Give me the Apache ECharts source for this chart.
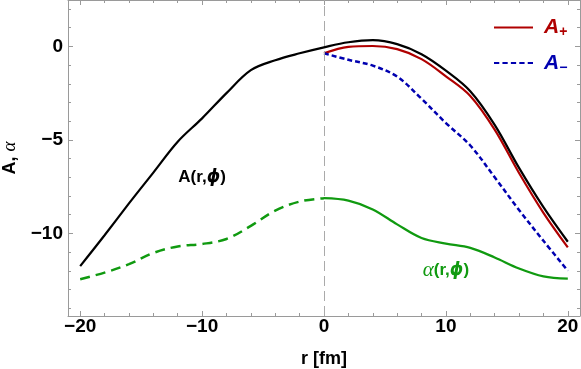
<!DOCTYPE html>
<html>
<head>
<meta charset="utf-8">
<script src="https://cdn.jsdelivr.net/npm/echarts@6/dist/echarts.min.js"></script>
<style>
html, body { margin: 0; padding: 0; background: #fff; }
#main { width: 581px; height: 369px; }
</style>
</head>
<body>
<div id="main"></div>
<script>
// r grid in fm
var rLeft = [-20, -18, -16, -14, -12, -10, -8, -6, -4, -2, 0];
var rRight = [0, 2, 4, 6, 8, 10, 12, 14, 16, 18, 20];
var rAll = rLeft.concat(rRight.slice(1));

// A(r,phi), whole range
var aTotal = [-11.75, -10.1, -8.4, -6.75, -5.1, -3.85, -2.5, -1.27, -0.74, -0.37, -0.05,
              0.22, 0.33, 0.12, -0.42, -1.3, -2.4, -4.2, -6.5, -8.6, -10.45];
// A+ and A- for r >= 0
var aPlus = [-0.37, -0.03, 0.02, -0.15, -0.68, -1.6, -2.65, -4.45, -6.77, -8.9, -10.75];
var aMinus = [-0.37, -0.72, -1.03, -1.62, -2.8, -4.1, -5.3, -7.0, -8.75, -10.4, -12.0];
// alpha(r,phi)
var alphaLeft = [-12.45, -12.1, -11.65, -11.05, -10.7, -10.57, -10.3, -9.6, -8.78, -8.3, -8.12];
var alphaRight = [-8.12, -8.25, -8.72, -9.52, -10.25, -10.55, -10.78, -11.29, -11.88, -12.3, -12.42];

var xMajor = [-20, -10, 0, 10, 20];
var xMinor = [-18, -16, -14, -12, -8, -6, -4, -2, 2, 4, 6, 8, 12, 14, 16, 18];
var yMajor = [0, -5, -10];
var yMinor = [2, 1, -1, -2, -3, -4, -6, -7, -8, -9, -11, -12, -13, -14];

var red = '#b00000', blue = '#0000b0', green = '#109a10';
var frameColor = '#9a9a9a';

function pairs(xs, ys) {
	return xs.map(function (x, i) { return [x, ys[i]]; });
}
function minus(v) {
	return String(v).replace('-', '\u2212');
}

// one axis of the frame: major or minor ticks only
function frameAxis(pos, ticks, isMajor, withLabels, isX) {
	var ax = {
		type: 'value',
		position: pos,
		min: isX ? -21 : -14.42,
		max: isX ? 21 : 2.48,
		splitLine: { show: false },
		axisLine: { show: isMajor, onZero: false, lineStyle: { color: frameColor, width: 1 } },
		axisTick: { show: true, inside: true, length: isMajor ? 5 : 3, customValues: ticks,
			lineStyle: { color: frameColor, width: 1 } },
		axisLabel: { show: withLabels, customValues: ticks, formatter: minus,
			fontSize: 19, fontWeight: 'bold', color: '#000', fontFamily: 'Liberation Sans',
			margin: isX ? 1 : 5 }
	};
	return ax;
}

var xAxes = [
	frameAxis('bottom', xMajor, true, true, true),
	frameAxis('bottom', xMinor, false, false, true),
	frameAxis('top', xMajor, true, false, true),
	frameAxis('top', xMinor, false, false, true)
];
xAxes[0].name = 'r [fm]';
xAxes[0].nameLocation = 'middle';
xAxes[0].nameGap = 34;
xAxes[0].nameTextStyle = { fontSize: 18, fontWeight: 'bold', color: '#000', fontFamily: 'Liberation Sans' };

var yAxes = [
	frameAxis('left', yMajor, true, true, false),
	frameAxis('left', yMinor, false, false, false),
	frameAxis('right', yMajor, true, false, false),
	frameAxis('right', yMinor, false, false, false)
];
yAxes[0].name = '{b|A, }{g|\u03b1}';
yAxes[0].nameLocation = 'middle';
yAxes[0].nameGap = 47;
yAxes[0].nameTextStyle = {
	rich: {
		b: { fontSize: 18, fontWeight: 'bold', color: '#000', fontFamily: 'Liberation Sans' },
		g: { fontSize: 19, fontStyle: 'italic', color: '#000', fontFamily: 'Liberation Serif' }
	}
};

function legendRich(color) {
	return {
		a: { fontSize: 21, fontWeight: 'bold', fontStyle: 'italic', fontFamily: 'Liberation Sans',
			color: color, padding: [0, 0, 0, 6], height: 24 },
		s: { fontSize: 14, fontWeight: 'bold', fontFamily: 'Liberation Sans', color: color,
			padding: [10, 0, 0, 0] }
	};
}

// legend keys: a solid bar and five dashes
var solidKey = 'path://M0,0h37v2h-37z';
var dashKey = 'path://M0,0h5v2h-5zM8,0h5v2h-5zM16,0h5v2h-5zM24,0h5v2h-5zM32,0h5v2h-5z';

var myChart = echarts.init(document.getElementById('main'), null, { renderer: 'canvas' });
var option = {
	animation: false,
	grid: { left: 68, right: 1, top: 0, bottom: 53, containLabel: false, outerBoundsMode: 'none' },
	xAxis: xAxes,
	yAxis: yAxes,
	legend: {
		orient: 'vertical',
		left: 494,
		top: 17,
		padding: 0,
		itemWidth: 39,
		itemHeight: 2.5,
		itemGap: 13,
		data: [
			{ name: 'A+', icon: solidKey, itemStyle: { color: red }, textStyle: { rich: legendRich(red) } },
			{ name: 'A\u2212', icon: dashKey, itemStyle: { color: blue }, textStyle: { rich: legendRich(blue) } }
		],
		formatter: function (name) {
			return '{a|A}{s|' + name.slice(1) + '}';
		}
	},
	series: [
		{
			name: 'A(r,phi)',
			type: 'line',
			data: pairs(rAll, aTotal),
			smooth: 0.35,
			symbol: 'none',
			lineStyle: { color: '#000', width: 2.2 },
			itemStyle: { color: '#000' },
			markLine: {
				silent: true,
				symbol: 'none',
				label: { show: false },
				lineStyle: { color: '#aaaaaa', width: 1, type: [10, 5] },
				data: [{ xAxis: 0 }]
			},
			markPoint: {
				symbolSize: 0,
				data: [{ coord: [-10, -7] }],
				label: {
					show: true, position: 'inside',
					formatter: '{b|A(r,}{i|\u03d5}{b|)}',
					rich: {
						b: { fontSize: 17, fontWeight: 'bold', color: '#000', fontFamily: 'Liberation Sans' },
						i: { fontSize: 17, fontWeight: 'bold', fontStyle: 'italic', color: '#000', fontFamily: 'DejaVu Sans' }
					}
				}
			},
			z: 3
		},
		{
			name: 'A+',
			type: 'line',
			data: pairs(rRight, aPlus),
			smooth: 0.35,
			symbol: 'none',
			lineStyle: { color: red, width: 2.2 },
			itemStyle: { color: red },
			z: 2
		},
		{
			name: 'A\u2212',
			type: 'line',
			data: pairs(rRight, aMinus),
			smooth: 0.35,
			symbol: 'none',
			lineStyle: { color: blue, width: 2.5, type: [5, 3] },
			itemStyle: { color: blue },
			z: 2
		},
		{
			name: 'alpha left',
			type: 'line',
			data: pairs(rLeft, alphaLeft),
			smooth: 0.35,
			symbol: 'none',
			lineStyle: { color: green, width: 2.5, type: [10, 6] },
			itemStyle: { color: green }
		},
		{
			name: 'alpha right',
			type: 'line',
			data: pairs(rRight, alphaRight),
			smooth: 0.35,
			symbol: 'none',
			lineStyle: { color: green, width: 2.3 },
			itemStyle: { color: green },
			markPoint: {
				symbolSize: 0,
				data: [{ coord: [10, -12] }],
				label: {
					show: true, position: 'inside',
					formatter: '{g|\u03b1}{b|(r,}{i|\u03d5}{b|)}',
					rich: {
						g: { fontSize: 21, fontStyle: 'italic', color: green, fontFamily: 'Liberation Serif' },
						b: { fontSize: 17, fontWeight: 'bold', color: green, fontFamily: 'Liberation Sans' },
						i: { fontSize: 17, fontWeight: 'bold', fontStyle: 'italic', color: green, fontFamily: 'DejaVu Sans' }
					}
				}
			}
		}
	]
};
myChart.setOption(option);
</script>
</body>
</html>
